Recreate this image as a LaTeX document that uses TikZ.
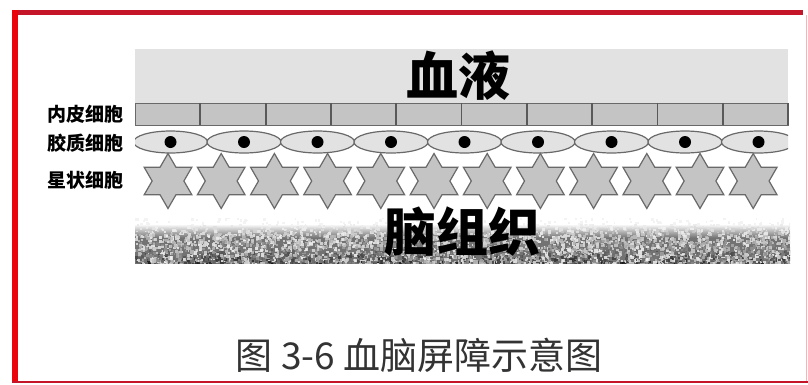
\documentclass[tikz,border=0pt]{standalone}
\usepackage{fontspec}
\usetikzlibrary{shapes.geometric}
\newfontfamily\cjk{Noto Sans CJK SC}
\definecolor{framered}{RGB}{196,22,40}
\definecolor{sidered}{RGB}{234,4,12}
\definecolor{plasma}{RGB}{226,226,226}
\definecolor{cellgray}{RGB}{196,196,196}
\definecolor{rimgray}{RGB}{105,105,105}
\begin{document}
\begin{tikzpicture}[x=1pt,y=-1pt,
	brick/.style={draw=rimgray,fill=cellgray,line width=1pt},
	glia/.style={draw=rimgray,fill=plasma,line width=1.2pt},
	astro/.style={star,star points=6,star point ratio=1.73,minimum size=55pt,inner sep=0pt,draw=rimgray,fill=cellgray,line width=1.2pt},
	lbl/.style={font=\cjk\bfseries\fontsize{19}{20}\selectfont},
	big/.style={font=\cjk\bfseries\fontsize{52}{56}\selectfont}]
	\useasboundingbox (0,0) rectangle (808,384);
	% frame
	\fill[white] (0,0) rectangle (808,384);
	\fill[framered] (12,10) rectangle (803,15);
	\fill[sidered] (12,10) rectangle (18,382);
	\fill[framered] (12,380.5) rectangle (808,383);
	\draw[red!30,line width=1pt] (806,15)--(806,381);
	% blood and endothelium
	\fill[plasma] (135,49) rectangle (788,103);
	\foreach \i in {0,...,9}
	\draw[brick] ({135+65.3*\i},103) rectangle ({135+65.3*(\i+1)},125);
	\foreach \i in {1,...,10}
	\draw[black!65,line width=1.8pt] ({135+65.3*\i},103)--({135+65.3*\i},125);
	% glial cells
	\begin{scope}
		\clip (135,127) rectangle (788,158);
		\foreach \i in {0,...,8}{
			\draw[glia] ({170.5+73.5*\i},142) ellipse (37 and 11);
			\fill ({170.5+73.5*\i},142) circle (6);}
	\end{scope}
	% astrocytes
	\foreach \i in {0,...,11}
	\node[astro] (ast\i) at ({168+53.2*\i},181) {};
	% brain tissue
	\begin{scope}
		\clip (135,218) rectangle (790,263);
		\foreach \k in {0,...,45}{
			\pgfmathtruncatemacro\g{min(55,4*max(0,\k-6))}
			\fill[black!\g] (135,{218+\k}) rectangle (790,{219.5+\k});}
		\pgfmathsetseed{17}
		\foreach \k in {1,...,5200}{
			\pgfmathsetmacro\px{135+655*rnd}
			\pgfmathsetmacro\py{216+48*sqrt(rnd)}
			\pgfmathtruncatemacro\sh{min(90,max(0,(\py-222)*2.2))*rnd+5}
			\pgfmathsetmacro\sz{1.5+2*rnd}
			\fill[black!\sh,opacity=.85] (\px,\py) rectangle ++(\sz,\sz);}
	\end{scope}
	% names
	\node[big] (blood) at (458,76) {血液};
	\node[big] (brain) at (462,232) {脑组织};
	\node[lbl] (endo) at (85,114.5) {内皮细胞};
	\node[lbl] (glial) at (85,143) {胶质细胞};
	\node[lbl] (astr) at (85,180.5) {星状细胞};
	\node[font=\cjk\fontsize{37}{40}\selectfont,text=black!80] (caption) at (419,355) {图 3-6 血脑屏障示意图};
\end{tikzpicture}
\end{document}
